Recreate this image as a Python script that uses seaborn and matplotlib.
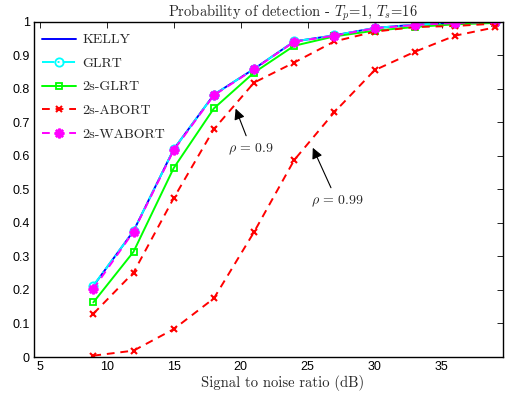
import numpy as np
import pandas as pd
import matplotlib
matplotlib.use("Agg")
import matplotlib.pyplot as plt
import seaborn as sns

# Signal-to-noise ratios (dB) at which the detectors were evaluated
snr = [9, 12, 15, 18, 21, 24, 27, 30, 33, 36, 39]

# Probability of detection for each detector
pd_kelly = [0.212, 0.376, 0.620, 0.783, 0.860, 0.942, 0.960, 0.982, 0.992, 0.997, 1.000]
pd_glrt = [0.213, 0.376, 0.620, 0.783, 0.860, 0.942, 0.960, 0.982, 0.992, 0.998, 1.000]
pd_2s_glrt = [0.163, 0.314, 0.564, 0.742, 0.849, 0.929, 0.957, 0.974, 0.985, 0.993, 0.997]
pd_2s_abort_09 = [0.129, 0.252, 0.474, 0.680, 0.819, 0.879, 0.942, 0.971, 0.985, 0.988, 0.995]
pd_2s_abort_099 = [0.004, 0.019, 0.083, 0.175, 0.373, 0.588, 0.731, 0.856, 0.911, 0.959, 0.984]
pd_2s_wabort = [0.203, 0.374, 0.617, 0.781, 0.859, 0.941, 0.959, 0.981, 0.991, 0.997, 1.000]

x_ticks = [5, 10, 15, 20, 25, 30, 35]
y_ticks = [0, 0.1, 0.2, 0.3, 0.4, 0.5, 0.6, 0.7, 0.8, 0.9, 1]
y_tick_labels = ["0", "0.1", "0.2", "0.3", "0.4", "0.5", "0.6", "0.7", "0.8", "0.9", "1"]

sns.set_theme(style="white")
plt.rcParams["mathtext.fontset"] = "cm"
plt.rcParams["font.family"] = ["Liberation Sans", "DejaVu Sans"]
plt.rcParams["axes.unicode_minus"] = False

SERIF = "cmr10"

fig = plt.figure(figsize=(5.19, 3.93), dpi=100)
ax = fig.add_axes([0.0655, 0.0916, 0.9035, 0.8525])

asterisk = (8, 2, 0)

series = [
    ("KELLY", pd_kelly, dict(color="#0000ff", linestyle="-", marker=None)),
    ("GLRT", pd_glrt, dict(color="#00ffff", linestyle="-.", marker="o",
                           markerfacecolor="none", markeredgecolor="#00ffff",
                           markersize=6, markeredgewidth=1.3)),
    ("2s-GLRT", pd_2s_glrt, dict(color="#00ff00", linestyle="-", marker="s",
                                 markerfacecolor="none", markeredgecolor="#00ff00",
                                 markersize=5, markeredgewidth=1.3)),
    ("2s-ABORT", pd_2s_abort_09, dict(color="#ff0000", linestyle=(0, (4, 3)), marker="x",
                                      markeredgecolor="#ff0000", markersize=5,
                                      markeredgewidth=1.5)),
    ("2s-WABORT", pd_2s_wabort, dict(color="#ff00ff", linestyle=(0, (4, 3)), marker=asterisk,
                                     markerfacecolor="#ff00ff", markeredgecolor="#ff00ff",
                                     markersize=7, markeredgewidth=1.8)),
]

handles = []
for name, values, style in series:
    df = pd.DataFrame({"snr": snr, "pd": values})
    sns.lineplot(data=df, x="snr", y="pd", ax=ax, linewidth=1.4, **style)
    handles.append((ax.lines[-1], name))

# Second 2s-ABORT curve (rho = 0.99), not listed in the legend
df = pd.DataFrame({"snr": snr, "pd": pd_2s_abort_099})
sns.lineplot(data=df, x="snr", y="pd", ax=ax, linewidth=1.4, color="#ff0000",
             linestyle=(0, (4, 3)), marker="x", markeredgecolor="#ff0000",
             markersize=5, markeredgewidth=1.5)

ax.set_xlim(4.57, 39.58)
ax.set_ylim(0, 1)
ax.set_xticks(x_ticks)
ax.set_xticklabels([str(t) for t in x_ticks])
ax.set_yticks(y_ticks)
ax.set_yticklabels(y_tick_labels)
ax.tick_params(direction="in", length=4, width=0.6, top=True, right=True,
               labelsize=9, pad=3, colors="black")
for sp in ax.spines.values():
    sp.set_color("black")
    sp.set_linewidth(1.0)

ax.set_xlabel("Signal to noise ratio (dB)", fontsize=10.5, labelpad=1, family=SERIF)
ax.xaxis.set_label_coords(0.53, -0.055)
ax.set_ylabel("")
ax.set_title(r"Probability of detection - $T_p$=1, $T_s$=16",
             fontsize=10.5, pad=4, family=SERIF, x=0.553)

leg = ax.legend([h for h, _ in handles], [n for _, n in handles],
                loc="upper left", frameon=False, handlelength=2.4,
                handletextpad=0.5, labelspacing=0.78, borderaxespad=0.2,
                bbox_to_anchor=(0.0, 0.99),
                prop={"family": SERIF, "size": 10})

arrow = dict(arrowstyle="-|>", color="black", lw=0.8, mutation_scale=16)
ax.annotate(r"$\rho\,=\,0.9$", xy=(19.55, 0.749), xytext=(20.8, 0.62),
            fontsize=10, ha="center", va="center", arrowprops=arrow)
ax.annotate(r"$\rho\,=\,0.99$", xy=(25.3, 0.632), xytext=(27.2, 0.465),
            fontsize=10, ha="center", va="center", arrowprops=arrow)

fig.savefig("out.png", dpi=100)
